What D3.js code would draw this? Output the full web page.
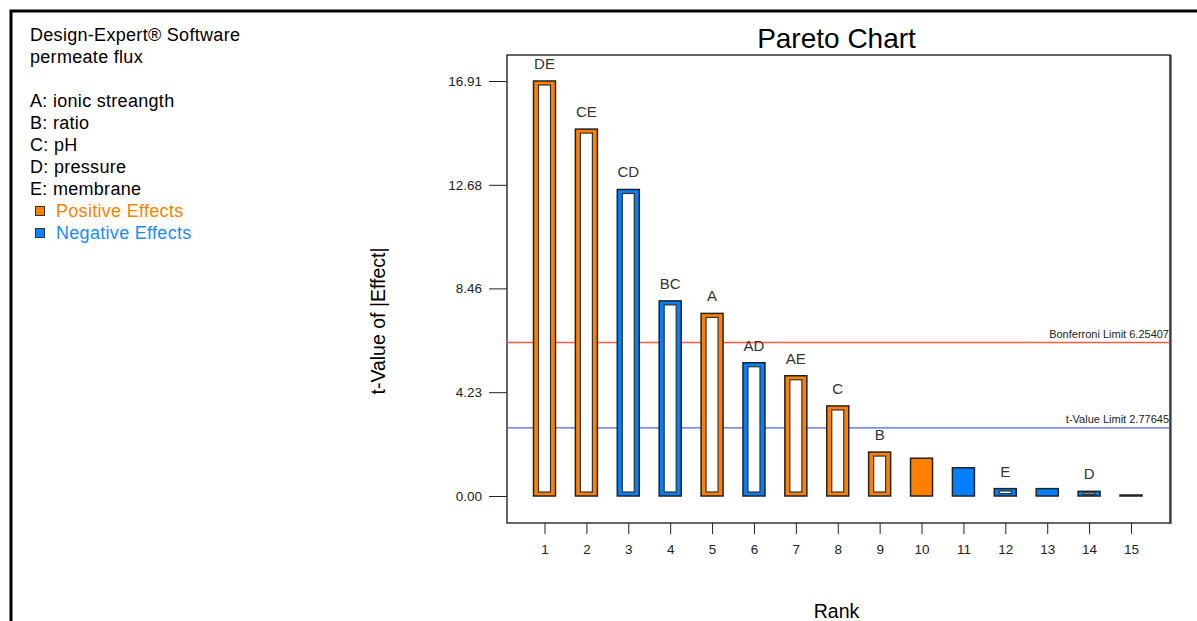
<!DOCTYPE html>
<html>
<head>
<meta charset="utf-8">
<script src="https://cdn.jsdelivr.net/npm/d3@7"></script>
<style>
  body { margin: 0; background: #fff; }
  svg { font-family: "Liberation Sans", Arial, sans-serif; }
</style>
</head>
<body>
<div id="chart"></div>
<script>
const ranks = [1, 2, 3, 4, 5, 6, 7, 8, 9, 10, 11, 12, 13, 14, 15];
const effectLabels = ["DE", "CE", "CD", "BC", "A", "AD", "AE", "C", "B", "", "", "E", "", "D", ""];
const tValues = [16.91, 14.95, 12.49, 7.95, 7.44, 5.43, 4.90, 3.67, 1.79, 1.54, 1.15, 0.30, 0.30, 0.19, 0.04];
const signs = ["+", "+", "-", "-", "+", "-", "+", "+", "+", "+", "-", "-", "-", "-", "+"];
const yTicks = [0, 4.23, 8.46, 12.68, 16.91];
const factorLines = ["A: ionic streangth", "B: ratio", "C: pH", "D: pressure", "E: membrane"];
const bonferroniLimit = 6.25407;
const tValueLimit = 2.77645;

const width = 1197, height = 621
  , plotLeft = 507, plotRight = 1170, plotTop = 55, plotBottom = 523
  , posColor = "#ff8000"
  , negColor = "#0080ff"
  , textColor = "#222";

const svg = d3.select("#chart").append("svg")
  .attr("width", width)
  .attr("height", height);

// outer frame
svg.append("rect")
  .attr("x", 11).attr("y", 11)
  .attr("width", width + 20).attr("height", height + 20)
  .style("fill", "none").style("stroke", "#000").style("stroke-width", 3);

// info text at top left
const infoSize = "18px";
const info = svg.append("g").attr("transform", "translate(30,0)")
  .style("letter-spacing", "0.3px");
info.append("text").attr("x", 0).attr("y", 41).text("Design-Expert® Software")
  .style("font-size", infoSize).style("fill", "#000");
info.append("text").attr("x", 0).attr("y", 63).text("permeate flux")
  .style("font-size", infoSize).style("fill", "#000");
factorLines.forEach(function(t, i) {
  info.append("text").attr("x", 0).attr("y", 107 + i * 22).text(t)
    .style("font-size", infoSize).style("fill", "#000");
});
[["Positive Effects", posColor, "#ff8000"], ["Negative Effects", negColor, "#1a8cff"]].forEach(function(d, i) {
  const yy = 217 + i * 22;
  info.append("rect").attr("x", 5.5).attr("y", yy - 10.5).attr("width", 9).attr("height", 9)
    .style("fill", d[1]).style("stroke", "#333").style("stroke-width", 1);
  info.append("text").attr("x", 26).attr("y", yy).text(d[0])
    .style("font-size", infoSize).style("fill", d[2]);
});

const x = d3.scaleLinear().domain([1, 15]).range([544.5, 1131]);
const y = d3.scaleLinear().domain([0, 16.91]).range([496, 81]);
const barWidth = 22;

// title
svg.append("text")
  .attr("x", (plotLeft + plotRight) / 2 - 2).attr("y", 48)
  .attr("text-anchor", "middle")
  .text("Pareto Chart")
  .style("font-size", "28px").style("fill", "#000");

// plot frame
svg.append("line").attr("x1", plotRight + 1).attr("x2", plotRight + 1)
  .attr("y1", plotTop).attr("y2", plotBottom + 1)
  .style("stroke", "#888").style("stroke-width", 2);
svg.append("rect")
  .attr("x", plotLeft).attr("y", plotTop)
  .attr("width", plotRight - plotLeft).attr("height", plotBottom - plotTop)
  .style("fill", "none").style("stroke", "#000").style("stroke-width", 1.2);

// y axis
const yAxis = d3.axisLeft(y).tickValues(yTicks).tickFormat(d3.format(".2f")).tickSize(18).tickPadding(7);
const gy = svg.append("g").attr("transform", `translate(${plotLeft},0)`).call(yAxis);
gy.select(".domain").remove();
gy.selectAll("line").style("stroke", "#222");
gy.selectAll("text").style("font-size", "13.5px").style("fill", textColor)
  .style("font-family", "'Liberation Sans', Arial, sans-serif");

// x axis
const xAxis = d3.axisBottom(x).tickValues(ranks).tickFormat(d3.format("d")).tickSize(11).tickPadding(10);
const gx = svg.append("g").attr("transform", `translate(0,${plotBottom})`).call(xAxis);
gx.select(".domain").remove();
gx.selectAll("line").style("stroke", "#222");
gx.selectAll("text").style("font-size", "13.5px").style("fill", textColor)
  .style("font-family", "'Liberation Sans', Arial, sans-serif");

// axis titles
svg.append("text")
  .attr("transform", `translate(385,321) rotate(-90)`)
  .attr("text-anchor", "middle")
  .text("t-Value of |Effect|")
  .style("font-size", "19.5px").style("fill", "#000");
svg.append("text")
  .attr("x", (plotLeft + plotRight) / 2 - 2).attr("y", 618)
  .attr("text-anchor", "middle")
  .text("Rank")
  .style("font-size", "19.5px").style("fill", "#000");

// limit lines
[[bonferroniLimit, "#ff5a3c", "Bonferroni Limit "], [tValueLimit, "#4a64e6", "t-Value Limit "]].forEach(function(d) {
  svg.append("line")
    .attr("x1", plotLeft).attr("x2", plotRight)
    .attr("y1", y(d[0])).attr("y2", y(d[0]))
    .style("stroke", d[1]).style("stroke-width", 1.3);
  svg.append("text")
    .attr("x", plotRight - 1).attr("y", y(d[0]) - 5)
    .attr("text-anchor", "end")
    .text(d[2] + d[0])
    .style("font-size", "11px").style("fill", "#222");
});

// bars
const barData = ranks.map(function(r, i) {
  return { rank: r, label: effectLabels[i], value: tValues[i], sign: signs[i] };
});

const bars = svg.append("g").selectAll("g")
  .data(barData)
  .enter().append("g");

bars.append("rect")
  .attr("x", function(d) { return x(d.rank) - barWidth / 2; })
  .attr("y", function(d) { return y(d.value); })
  .attr("width", barWidth)
  .attr("height", function(d) { return y(0) - y(d.value); })
  .style("fill", function(d) { return d.sign == "+" ? posColor : negColor; })
  .style("stroke", "#222")
  .style("stroke-width", 1.5);

// hollow centre for the labelled terms
function innerH(d) {
  const h = y(0) - y(d.value);
  return h > 12 ? h - 8 : h * 0.35;
}
bars.filter(function(d) { return d.label != ""; })
  .append("rect")
  .attr("x", function(d) { return x(d.rank) - barWidth / 2 + 5; })
  .attr("y", function(d) { return y(d.value) + (y(0) - y(d.value) - innerH(d)) / 2; })
  .attr("width", barWidth - 10)
  .attr("height", innerH)
  .style("fill", "#fff")
  .style("stroke", "#333")
  .style("stroke-width", 1.2);

bars.filter(function(d) { return d.label != ""; })
  .append("text")
  .attr("x", function(d) { return x(d.rank); })
  .attr("y", function(d) { return y(d.value) - 12; })
  .attr("text-anchor", "middle")
  .text(function(d) { return d.label; })
  .style("font-size", "15px")
  .style("fill", "#333");
</script>
</body>
</html>
